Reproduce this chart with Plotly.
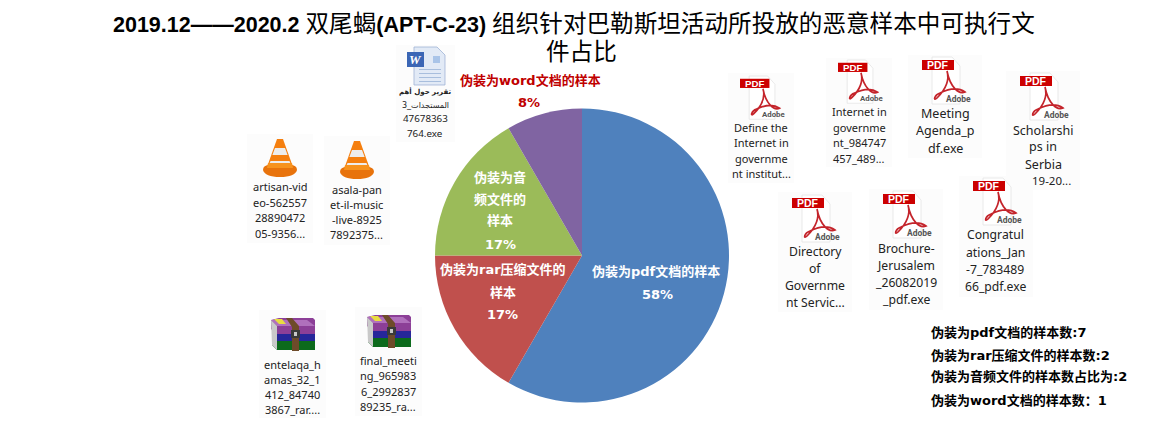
import plotly.graph_objects as go

W, H = 1168, 441

# ---- data ----
categories = ["伪装为pdf文档的样本", "伪装为rar压缩文件的样本", "伪装为音频文件的样本", "伪装为word文档的样本"]
sample_counts = [7, 2, 2, 1]
slice_colors = ["#4F81BD", "#C0504D", "#9BBB59", "#8064A2"]
CJK_SPAN = '<span style="font-size:23.6px;font-weight:400">%s</span>'
title_line1 = ("<b>2019.12——2020.2 </b>" + CJK_SPAN % "双尾蝎" + "<b>(APT-C-23) </b>"
               + CJK_SPAN % "组织针对巴勒斯坦活动所投放的恶意样本中可执行文")
title_line2 = CJK_SPAN % "件占比"
count_notes = ["伪装为pdf文档的样本数:7", "伪装为rar压缩文件的样本数:2", "伪装为音频文件的样本数占比为:2", "伪装为word文档的样本数：1"]

LATIN_CJK = "DejaVu Sans, Noto Sans CJK SC"

def px(x):
    return x / W

def py(y):
    return 1 - y / H

shapes = []
annotations = []

def path(cmds, fill=None, line=None, lw=0.0):
    """cmds: list of (letter, [x, y, ...]) in pixels."""
    s = ""
    for c, pts in cmds:
        s += c
        vals = []
        for i in range(0, len(pts), 2):
            vals.append(f"{px(pts[i]):.5f},{py(pts[i + 1]):.5f}")
        s += " ".join(vals) + " "
    shape = dict(type="path", xref="paper", yref="paper", path=s + ("Z" if fill else ""), layer="above",
                 line=dict(width=lw, color=line or "rgba(0,0,0,0)"))
    if fill:
        shape["fillcolor"] = fill
    shapes.append(shape)

def poly(pts, fill, ox=0, oy=0, k=1.0, line=None, lw=0.0):
    cmds = [("M", [ox + pts[0][0] * k, oy + pts[0][1] * k])]
    for p in pts[1:]:
        cmds.append(("L", [ox + p[0] * k, oy + p[1] * k]))
    path(cmds, fill=fill, line=line, lw=lw)

def panel(x0, y0, x1, y1):
    poly([(x0, y0), (x1, y0), (x1, y1), (x0, y1)], "#FCFCFC")

def text(x, y, s, size=11, color="#222222", family="Noto Sans", anchor="center"):
    annotations.append(dict(x=px(x), y=py(y), xref="paper", yref="paper", text=s, showarrow=False,
                            xanchor=anchor, yanchor="middle", borderpad=0,
                            font=dict(size=size, color=color, family=family)))

def lines(cx, ys, strs, size=11, family="Noto Sans"):
    for y, s in zip(ys, strs):
        text(cx, y, s, size=size, family=family)

def pdf_icon(ox, oy, k=1.0):
    poly([(10, 0), (30, 0), (38, 9), (38, 47), (10, 47)], "#FFFFFF", ox, oy, k, line="#E4E4E4", lw=0.8)
    def P(x, y):
        return [ox + x * k, oy + y * k]
    path([("M", P(25, 14)), ("C", P(28, 24) + P(22, 34) + P(15, 41)), ("C", P(11, 45) + P(12, 38) + P(18, 36)),
          ("C", P(26, 32) + P(36, 30) + P(43, 35)), ("C", P(37, 38) + P(28, 30) + P(25, 14))],
         line="#C4242B", lw=1.7)
    poly([(0, 3), (32, 3), (32, 13), (0, 13)], "#CC0000", ox, oy, k)
    text(ox + 16 * k, oy + 8.2 * k, "<b>PDF</b>", size=10.5 * k, color="#FFFFFF", family="Liberation Sans")
    text(ox + 36 * k, oy + 42 * k, "<b>Adobe</b>", size=8.5 * k, color="#555555", family="Roboto")

def cone_icon(cx, ty):
    poly([(-3, 0), (3, 0), (13, 28), (-13, 28)], "#F57F0F", cx, ty)
    poly([(-5, 9), (5, 9), (7.6, 16), (-7.6, 16)], "#EDEDED", cx, ty)
    poly([(-9.5, 22), (9.5, 22), (11.5, 27), (-11.5, 27)], "#EDEDED", cx, ty)
    path([("M", [cx - 17, ty + 31]), ("Q", [cx - 17, ty + 26, cx - 10, ty + 26]), ("L", [cx + 10, ty + 26]),
          ("Q", [cx + 17, ty + 26, cx + 17, ty + 31]), ("Q", [cx + 15, ty + 38, cx, ty + 38]),
          ("Q", [cx - 15, ty + 38, cx - 17, ty + 31])], fill="#E8730C")
    poly([(-12, 24), (12, 24), (13, 29), (-13, 29)], "#F7931E", cx, ty)

def rar_icon(ox, oy):
    poly([(0, 2), (8, 0), (42, 0), (44, 2), (44, 16), (6, 16), (0, 11)], "#8C3F97", ox, oy)
    poly([(0, 2), (36, 2), (44, 8), (6, 8)], "#B070BC", ox, oy)
    poly([(1, 11), (6, 16), (44, 16), (44, 23), (6, 23), (1, 19)], "#26269A", ox, oy)
    poly([(1, 19), (6, 23), (44, 23), (44, 32), (6, 32), (1, 27)], "#0C6A1C", ox, oy)
    poly([(0, 2), (6, 8), (6, 32), (1, 27)], "#C9C9C9", ox, oy)
    poly([(3, 1), (11, 1), (15, 6), (8, 6)], "#E8DC40", ox, oy)
    poly([(15, 0), (21, 0), (28, 8), (28, 33), (21, 33), (21, 9)], "#6E4B2A", ox, oy)
    poly([(20, 12), (29, 12), (29, 20), (20, 20)], "#3A3A3A", ox, oy)
    poly([(23, 14), (26, 14), (26, 18), (23, 18)], "#C8C8C8", ox, oy)

def word_icon(ox, oy):
    poly([(7, 0), (30, 0), (38, 8), (38, 38), (7, 38)], "#E2EAF6", ox, oy, line="#9FB4D6", lw=0.8)
    for yy in (22, 26, 30, 34):
        poly([(12, yy), (34, yy), (34, yy + 1), (12, yy + 1)], "#A8BEDD", ox, oy)
    poly([(26, 9), (33, 9), (33, 16), (26, 16)], "#A9C4E8", ox, oy)
    poly([(0, 5), (17, 5), (17, 20), (0, 20)], "#3B66B5", ox, oy)
    text(ox + 8.5, oy + 12.5, "<b><i>W</i></b>", size=13, color="#FFFFFF", family="Liberation Serif")

# file-icon panels (painted in z-order)
panel(247, 134, 313, 243)
cone_icon(280, 139)
lines(280, [187, 202, 218, 233], ["artisan-vid", "eo-562557", "28890472", "05-9356..."])
panel(324, 136, 390, 245)
cone_icon(357, 141)
lines(357, [189, 204, 219, 235], ["asala-pan", "et-il-music", "-live-8925", "7892375..."])

panel(396, 45, 455, 142)
word_icon(407, 47)
text(425, 92, "<b>تقرير حول أهم</b>", size=7, family="DejaVu Sans")
text(425, 106, "المستجدات_3", size=8, family="DejaVu Sans")
lines(425, [119, 133], ["47678363", "764.exe"], size=9.8)

panel(259, 310, 326, 418)
rar_icon(271, 318)
lines(292, [364, 379, 394, 409], ["entelaqa_h", "amas_32_1", "412_84740", "3867_rar...."])
panel(355, 307, 422, 416)
rar_icon(367, 315)
lines(388, [360, 375, 391, 406], ["final_meeti", "ng_965983", "6_2992837", "89235_ra..."])

panel(728, 73, 794, 183)
pdf_icon(740, 76, 0.92)
lines(761, [127, 142, 158, 173], ["Define the", "Internet in", "governme", "nt institut..."])
panel(826, 58, 892, 167)
pdf_icon(838, 60, 0.92)
lines(859, [111, 127, 142, 158], ["Internet in", "governme", "nt_984747", "457_489..."])
panel(908, 55, 982, 158)
pdf_icon(922, 57, 1.0)
lines(945, [113, 131, 148], ["Meeting", "Agenda_p", "df.exe"], size=12.5)

panel(1006, 71, 1080, 190)
pdf_icon(1020, 73, 1.0)
lines(1043, [130, 147, 164], ["Scholarshi", "ps in", "Serbia"], size=12.5)
text(1031, 181, "19-20...", size=11.5, anchor="left")

panel(778, 192, 852, 312)
pdf_icon(792, 195, 1.0)
lines(815, [251, 268, 285, 302], ["Directory", "of", "Governme", "nt Servic..."], size=12.2)
panel(869, 189, 943, 310)
pdf_icon(883, 191, 1.0)
lines(906, [248, 265, 282, 299], ["Brochure-", "Jerusalem", "_26082019", "_pdf.exe"], size=12.2)
panel(959, 176, 1033, 297)
pdf_icon(973, 178, 1.0)
lines(995, [235, 252, 269, 286], ["Congratul", "ations_Jan", "-7_783489", "66_pdf.exe"], size=12.2)

# pie labels, split into the reference's lines, percentages derived from the counts
total = sum(sample_counts)
pct = [f"{round(v / total * 100)}%" for v in sample_counts]
label_lines = [
    ["伪装为pdf文档的样本", pct[0]],
    ["伪装为rar压缩文件的", "样本", pct[1]],
    ["伪装为音", "频文件的", "样本", pct[2]],
    ["伪装为word文档的样本", pct[3]],
]
label_pos = [
    [(656, 271), (657, 294)],
    [(503, 269), (503, 292), (503, 314)],
    [(500, 177), (500, 199), (500, 221), (500, 244)],
    [(530, 80), (529, 103)],
]
label_colors = ["#FFFFFF", "#FFFFFF", "#FFFFFF", "#C00000"]
for ls, ps, c in zip(label_lines, label_pos, label_colors):
    for s, (x, y) in zip(ls, ps):
        text(x, y, f"<b>{s}</b>", size=13, color=c, family=LATIN_CJK)

for y, s in zip([332, 355, 376, 400], count_notes):
    text(930, y, f"<b>{s}</b>", size=13, color="#000000", family=LATIN_CJK, anchor="left")

text(574, 24, title_line1, size=21.5, color="#000000", family="Liberation Sans, Noto Sans CJK SC")
text(581, 52, title_line2, size=21.5, color="#000000", family="Liberation Sans, Noto Sans CJK SC")

fig = go.Figure(go.Pie(
    labels=categories, values=sample_counts, sort=False, direction="clockwise", rotation=0,
    marker=dict(colors=slice_colors, line=dict(width=0)),
    textinfo="none", showlegend=False, hole=0,
    domain=dict(x=[px(435), px(729)], y=[py(403), py(108)]),
))
fig.update_layout(width=W, height=H, margin=dict(l=0, r=0, t=0, b=0), paper_bgcolor="#FFFFFF",
                  shapes=shapes, annotations=annotations, showlegend=False)
fig.write_html("out.html", config=dict(displayModeBar=False),
               post_script="document.body.style.margin='0';document.body.style.overflow='hidden';")
